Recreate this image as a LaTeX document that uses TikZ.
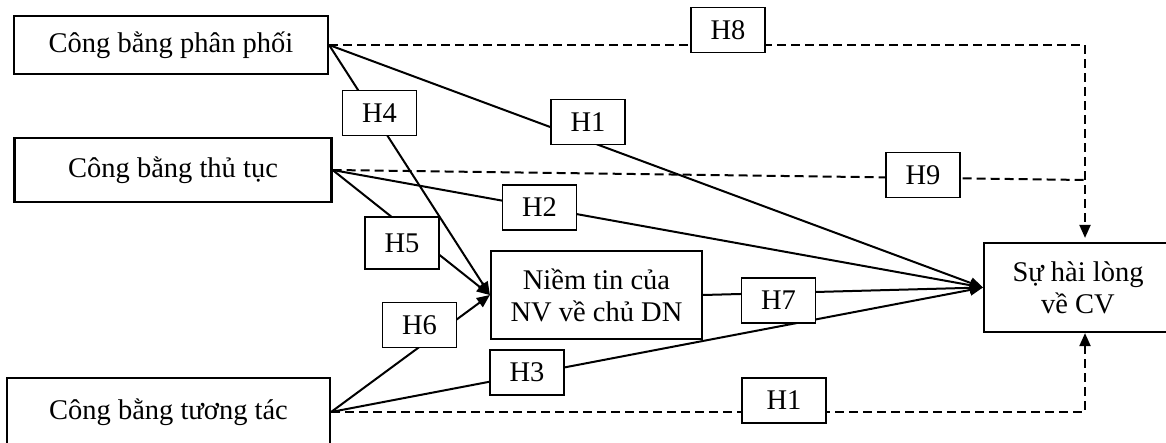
\documentclass[tikz,border=0pt]{standalone}
\usepackage{fontspec}
\setmainfont{Liberation Serif}
\usetikzlibrary{arrows.meta}

\begin{document}
\begin{tikzpicture}[x=1pt,y=-1pt,
  font=\fontsize{28.5}{32}\selectfont,
  box/.style={draw,line width=2.2pt,inner sep=0pt,align=center},
  hlab/.style={draw,line width=1.1pt,fill=white,minimum width=74pt,minimum height=45pt,inner sep=0pt},
  link/.style={line width=2pt,-{Triangle[length=13pt,width=11pt]}},
  dlink/.style={line width=2pt,dash pattern=on 9pt off 5pt}]
\useasboundingbox (0,0) rectangle (1166,443);
% main boxes
\node[box,minimum width=314pt,minimum height=58pt] (A) at (171,45) {Công bằng phân phối};
\node[box,minimum width=317pt,minimum height=64pt] (B) at (173,170) {Công bằng thủ tục};
\node[box,minimum width=323pt,minimum height=68pt] (C) at (168.5,412) {Công bằng tương tác};
\node[box,minimum width=211pt,minimum height=88pt] (N) at (596.5,295) {Niềm tin của\\NV về chủ DN};
\node[box,minimum width=188pt,minimum height=89pt] (S) at (1078,287.5) {Sự hài lòng\\về CV};
\coordinate (j) at (1085,180);
% direct paths
\draw[link] (A.east) -- (S.west);
\draw[link] (A.east) -- (N.west);
\draw[link] (B.east) -- (S.west);
\draw[link] (B.east) -- (N.west);
\draw[link] (C.east) -- (N.west);
\draw[link] (C.east) -- (S.west);
\draw[link] (N.east) -- (S.west);
% dashed paths
\draw[dlink,-{Triangle[length=13pt,width=11pt]},shorten >=4pt] (A.east) -| ([xshift=7pt]S.north);
\draw[dlink] (B.east) -- (j);
\draw[dlink,-{Triangle[length=13pt,width=11pt]}] (C.east) -| ([xshift=7pt]S.south);
% labels
\node[hlab] (h8) at (728,30) {H8};
\node[hlab] (h4) at (379.5,113) {H4};
\node[hlab] (h1a) at (588,122) {H1};
\node[hlab] (h9) at (923,175) {H9};
\node[hlab] (h2) at (539.5,207.5) {H2};
\node[hlab,minimum height=52pt] (h5) at (402,243) {H5};
\node[hlab] (h6) at (419.5,325) {H6};
\node[hlab] (h7) at (778.5,300.5) {H7};
\node[hlab] (h3) at (527,372.5) {H3};
\node[hlab,minimum width=84pt] (h1b) at (784,400.5) {H1};
\end{tikzpicture}
\end{document}
